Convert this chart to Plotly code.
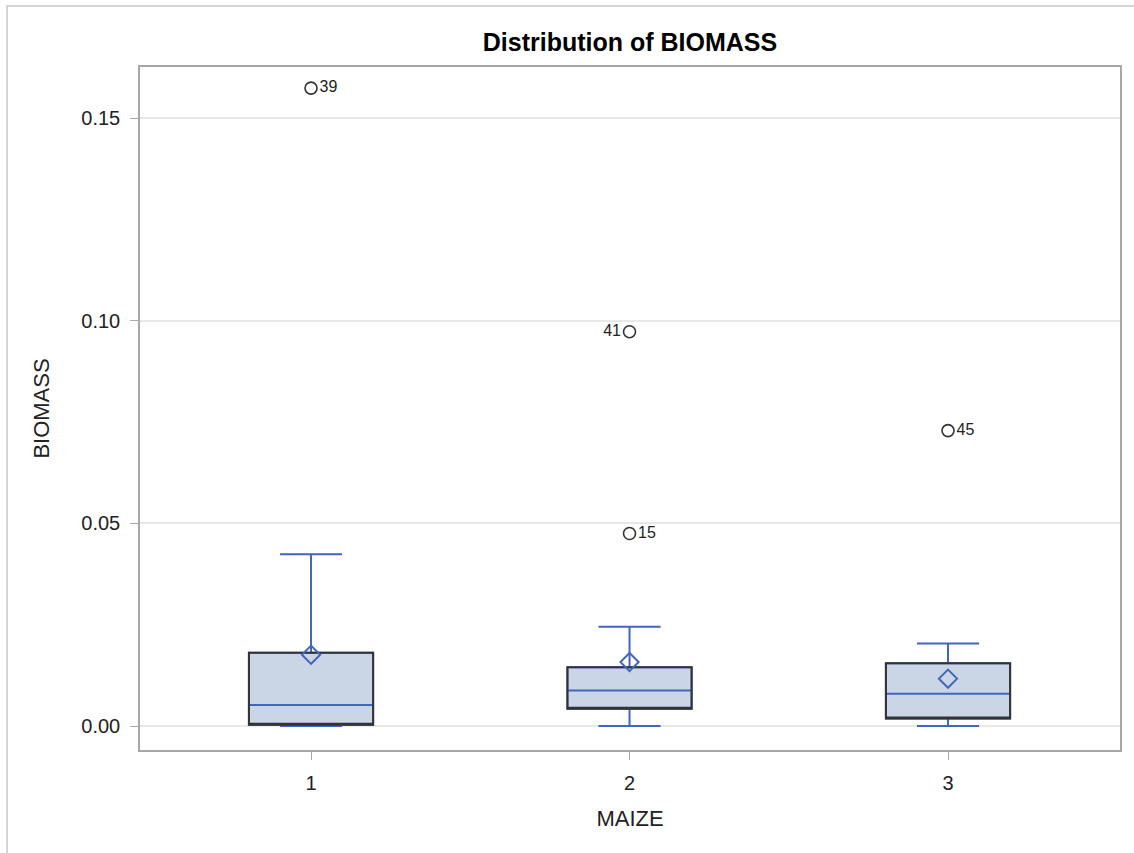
import plotly.graph_objects as go

categories = [1, 2, 3]
q1 = [0.0003, 0.0043, 0.0019]
median = [0.0052, 0.0088, 0.0080]
q3 = [0.0181, 0.0145, 0.0155]
lower_whisker = [0.0, 0.0, 0.0]
upper_whisker = [0.0424, 0.0245, 0.0204]
means = [0.0176, 0.0158, 0.0117]

outlier_x = [1, 2, 2, 3]
outlier_y = [0.1574, 0.0973, 0.0475, 0.0729]
outlier_labels = ["39", "41", "15", "45"]
outlier_pos = ["middle right", "middle left", "middle right", "middle right"]

y_ticks = [0, 0.05, 0.10, 0.15]

blue = "#4066BE"
fill = "#CAD5E6"
dark = "#333333"
font = "Liberation Sans, Arial, sans-serif"

fig = go.Figure()

# blue box: fill, median, whiskers
fig.add_trace(go.Box(
    x=categories, q1=q1, median=median, q3=q3,
    lowerfence=lower_whisker, upperfence=upper_whisker,
    fillcolor=fill, line=dict(color=blue, width=2),
    width=0.39, whiskerwidth=0.5, boxpoints=False,
    showlegend=False, hoverinfo="skip",
))
# dark outline on top
fig.add_trace(go.Box(
    x=categories, q1=q1, median=q1, q3=q3,
    lowerfence=q1, upperfence=q3,
    fillcolor="rgba(0,0,0,0)", line=dict(color=dark, width=2),
    width=0.39, whiskerwidth=0, boxpoints=False,
    showlegend=False, hoverinfo="skip",
))
# means
fig.add_trace(go.Scatter(
    x=categories, y=means, mode="markers",
    marker=dict(symbol="diamond-open", size=14, color=blue, line=dict(width=2, color=blue)),
    showlegend=False, hoverinfo="skip",
))
# outliers
fig.add_trace(go.Scatter(
    x=outlier_x, y=outlier_y, mode="markers+text",
    text=outlier_labels, textposition=outlier_pos,
    textfont=dict(family=font, size=16, color="#222"),
    marker=dict(symbol="circle-open", size=12, color=dark, line=dict(width=1.6, color=dark)),
    showlegend=False, hoverinfo="skip",
))

L, R, T, B = 140, 14, 67, 103
W, H = 1134, 853
pw, ph = W - L - R, H - T - B

fig.add_shape(type="rect", xref="paper", yref="paper",
              x0=(7 - L) / pw, x1=(W + 10 - L) / pw,
              y0=(H - B - (H + 10)) / ph, y1=(H - B - 6) / ph,
              line=dict(color="#C8C8C8", width=1.5), fillcolor="rgba(0,0,0,0)", layer="below")

fig.update_layout(
    width=W, height=H,
    margin=dict(l=L, r=R, t=T, b=B),
    paper_bgcolor="white", plot_bgcolor="white",
    boxmode="overlay",
    title=dict(text="<b>Distribution of BIOMASS</b>", x=630 / W,
               xanchor="center", y=1 - 42 / H, yanchor="middle",
               font=dict(family=font, size=25, color="black")),
    font=dict(family=font, size=20, color="#222"),
)
fig.update_xaxes(
    type="linear", range=[0.463, 3.54], tickvals=categories, ticktext=[str(c) for c in categories],
    showgrid=False, zeroline=False, showline=True, mirror=True, linecolor="#A7A7A7", linewidth=1.5,
    ticks="outside", ticklen=8, tickcolor="#A7A7A7", ticklabelstandoff=6,
    title=dict(text="MAIZE", font=dict(family=font, size=22, color="#222"), standoff=18),
    tickfont=dict(family=font, size=20, color="#222"),
)
fig.update_yaxes(
    range=[-0.0059, 0.1626], tickvals=y_ticks, tickformat=".2f",
    showgrid=True, gridcolor="#E8E8E8", gridwidth=1.5, zeroline=False,
    showline=True, mirror=True, linecolor="#A7A7A7", linewidth=1.5,
    ticks="outside", ticklen=8, tickcolor="#A7A7A7", ticklabelstandoff=6,
    title=dict(text="BIOMASS", font=dict(family=font, size=22, color="#222"), standoff=26),
    tickfont=dict(family=font, size=20, color="#222"),
)

fig.write_html("out.html")
